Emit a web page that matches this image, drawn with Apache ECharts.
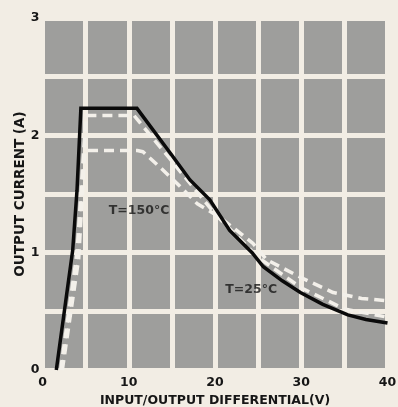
<!DOCTYPE html>
<html>
<head>
<meta charset="utf-8">
<script src="https://cdn.jsdelivr.net/npm/echarts@6/dist/echarts.min.js"></script>
<style>
  html, body { margin: 0; padding: 0; background: #f2ede4; }
  #chart { width: 398px; height: 407px; }
</style>
</head>
<body>
<div id="chart"></div>
<script>
// courbe noire (trait plein)
const blackCurve = [
  [1.6, 0], [3.5, 1.02], [4.0, 1.53], [4.45, 2.23], [10.95, 2.23],
  [15, 1.83], [17.1, 1.62], [19.4, 1.45], [21.7, 1.19], [24.3, 1.0],
  [25.6, 0.88], [27.8, 0.76], [29.9, 0.66], [32.5, 0.56], [35.4, 0.47],
  [37.5, 0.43], [40, 0.40]
];
// courbe pointillée haute
const dashedUpper = [
  [2.1, 0], [4.0, 1.0], [4.8, 1.9], [5.1, 2.17], [10.6, 2.17],
  [15, 1.78], [20, 1.33], [25, 0.96], [30, 0.70], [35, 0.52], [40, 0.45]
];
// courbe pointillée basse
const dashedLower = [
  [2.3, 0], [4.2, 0.95], [4.9, 1.87], [11.0, 1.87], [11.65, 1.86],
  [13.6, 1.73], [15.6, 1.59], [17.9, 1.42], [20.6, 1.30], [24.4, 1.08],
  [26.0, 0.94], [29.9, 0.79], [33.7, 0.66], [37, 0.61], [40, 0.59]
];
const annotations = [
  { text: 'T=150°C', at: [11.2, 1.36] },
  { text: 'T=25°C', at: [24.2, 0.68] }
];
const xLabels = [0, 10, 20, 30, 40];
const yLabels = [0, 1, 2, 3];

const chart = echarts.init(document.getElementById('chart'), null, { renderer: 'canvas' });

const font = 'DejaVu Sans';
const cream = '#f2ede4';
const ink = '#161616';

const option = {
  backgroundColor: cream,
  animation: false,
  grid: {
    left: 42.5, right: 10.5, top: 18, bottom: 37,
    outerBoundsMode: 'none', containLabel: false,
    show: true, backgroundColor: '#9e9e9c', borderWidth: 0
  },
  xAxis: {
    type: 'value', min: 0, max: 40, interval: 5,
    name: 'INPUT/OUTPUT DIFFERENTIAL(V)',
    nameLocation: 'middle', nameGap: 22,
    nameTextStyle: { fontFamily: font, fontSize: 12.5, fontWeight: 'bold', color: ink },
    axisLine: { show: false }, axisTick: { show: false },
    axisLabel: {
      margin: 6, fontFamily: font, fontSize: 12.5, fontWeight: 'bold', color: ink,
      formatter: v => xLabels.includes(v) ? String(v) : ''
    },
    splitLine: { show: true, lineStyle: { color: cream, width: 5 } }
  },
  yAxis: {
    type: 'value', min: 0, max: 3, interval: 0.5,
    name: 'OUTPUT CURRENT (A)',
    nameLocation: 'middle', nameGap: 15, nameMoveOverlap: false,
    nameTextStyle: { fontFamily: font, fontSize: 13.5, fontWeight: 'bold', color: ink },
    axisLine: { show: false }, axisTick: { show: false },
    axisLabel: {
      margin: 3, fontFamily: font, fontSize: 12.5, fontWeight: 'bold', color: ink,
      formatter: v => yLabels.includes(v) ? String(v) : ''
    },
    splitLine: { show: true, lineStyle: { color: cream, width: 5 } }
  },
  series: [
    {
      name: 'upper', type: 'line', data: dashedUpper, symbol: 'none', z: 2,
      lineStyle: { color: '#f3f0ea', width: 3.5, type: [10, 6] }
    },
    {
      name: 'lower', type: 'line', data: dashedLower, symbol: 'none', z: 2,
      lineStyle: { color: '#f3f0ea', width: 3.5, type: [10, 6] }
    },
    {
      name: 'black', type: 'line', data: blackCurve, symbol: 'none', z: 3,
      lineStyle: { color: '#0a0a0a', width: 3.5, join: 'miter' }
    },
    {
      name: 'labels', type: 'scatter', symbolSize: 0, z: 4,
      data: annotations.map(a => ({ value: a.at, name: a.text })),
      label: {
        show: true, position: 'inside', formatter: p => p.name,
        fontFamily: font, fontSize: 12.5, fontWeight: 'bold', color: ink
      }
    }
  ]
};

chart.setOption(option);
window.addEventListener('resize', chart.resize);
</script>
</body>
</html>
